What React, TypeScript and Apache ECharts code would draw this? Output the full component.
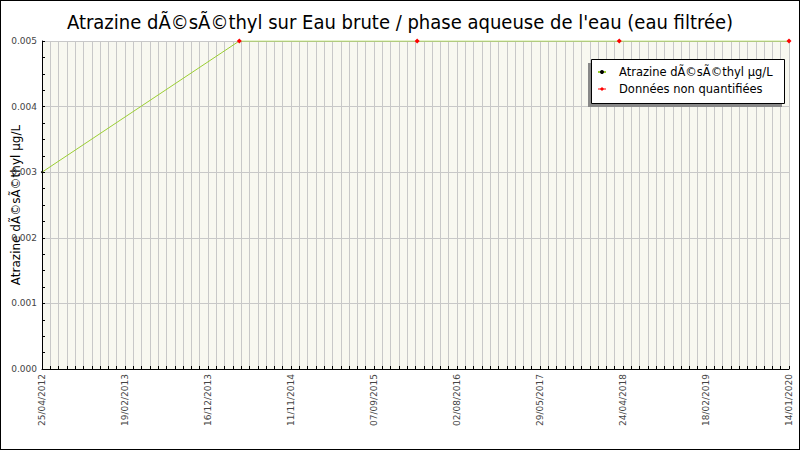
import React, { useEffect, useRef } from 'react';
import * as echarts from 'echarts';

const xTickLabels = [
  '25/04/2012', '19/02/2013', '16/12/2013', '11/11/2014', '07/09/2015',
  '02/08/2016', '29/05/2017', '24/04/2018', '18/02/2019', '14/01/2020',
];
// sample positions, in units of the label spacing
const samplePos = [0, 2.377, 4.52, 6.955, 9];
const sampleValues = [0.003, 0.005, 0.005, 0.005, 0.005];
const nonQuantified = [false, true, true, true, true];

const TITLE = "Atrazine dÃ©sÃ©thyl sur Eau brute / phase aqueuse de l'eau (eau filtrée)";
const SERIES_NAME = 'Atrazine dÃ©sÃ©thyl µg/L';
const NQ_NAME = 'Données non quantifiées';

const App: React.FC = () => {
  const chartRef = useRef<HTMLDivElement>(null);

  useEffect(() => {
    if (!chartRef.current) return;
    const chart = echarts.init(chartRef.current, null, { renderer: 'svg' });

    const lineData = samplePos.map((x, i) => [x, sampleValues[i]]);
    const nqData = samplePos
      .map((x, i) => [x, sampleValues[i]])
      .filter((_, i) => nonQuantified[i]);

    const font = 'DejaVu Sans';

    const option = {
      animation: false,
      backgroundColor: '#fff',
      title: {
        text: TITLE,
        left: 'center',
        top: 7,
        textStyle: { fontFamily: 'DejaVu Sans Condensed', fontSize: 20, fontWeight: 'normal', color: '#000' },
      },
      graphic: [
        // legend shadow + box
        { type: 'rect', z: 10, shape: { x: 588, y: 63, width: 194, height: 44 }, style: { fill: '#888' } },
        { type: 'rect', z: 11, shape: { x: 591.5, y: 59.5, width: 193, height: 44 }, style: { fill: '#fff', stroke: '#000', lineWidth: 1 } },
      ],
      legend: {
        orient: 'vertical',
        left: 591,
        top: 62,
        z: 20,
        padding: [4, 6, 4, 6],
        itemGap: 5,
        itemWidth: 8,
        itemHeight: 5,
        textStyle: { fontFamily: font, fontSize: 11.5, color: '#000', padding: [0, 0, 0, 8] },
        data: [
          { name: SERIES_NAME },
          { name: NQ_NAME, lineStyle: { opacity: 1, width: 1, color: '#ff0000' } },
        ],
      },
      grid: {
        left: 42, right: 11, top: 41, bottom: 81,
        outerBoundsMode: 'none',
        containLabel: false,
        show: true, backgroundColor: '#f8f8f0', borderWidth: 0,
      },
      xAxis: {
        type: 'value',
        min: 0,
        max: 9,
        interval: 1,
        axisLine: { show: true, lineStyle: { color: '#000', width: 1 } },
        axisTick: { show: true, inside: true, length: 3, lineStyle: { color: '#000' } },
        minorTick: { show: true, splitNumber: 10, length: 3, lineStyle: { color: '#000' } },
        splitLine: { show: true, lineStyle: { color: '#c8c8c8', width: 1 } },
        minorSplitLine: { show: true, lineStyle: { color: '#c8c8c8', width: 1 } },
        axisLabel: {
          rotate: 90,
          margin: 5,
          fontFamily: font,
          fontSize: 9,
          color: '#444',
          formatter: (v: number) => xTickLabels[Math.round(v)] ?? '',
        },
      },
      yAxis: {
        type: 'value',
        min: 0,
        max: 0.005,
        interval: 0.001,
        name: SERIES_NAME,
        nameLocation: 'middle',
        nameGap: 20,
        nameMoveOverlap: false,
        nameTextStyle: { fontFamily: font, fontSize: 12, color: '#000' },
        axisLine: { show: true, lineStyle: { color: '#000', width: 1 } },
        axisTick: { show: true, inside: true, length: 3, lineStyle: { color: '#000' } },
        minorTick: { show: true, splitNumber: 4, length: 3, lineStyle: { color: '#000' } },
        splitLine: { show: true, lineStyle: { color: '#c8c8c8', width: 1 } },
        axisLabel: {
          margin: 5,
          fontFamily: font,
          fontSize: 9,
          color: '#444',
          formatter: (v: number) => v.toFixed(3),
        },
      },
      series: [
        {
          name: SERIES_NAME,
          type: 'line',
          data: lineData,
          symbol: 'circle',
          symbolSize: 2,
          itemStyle: { color: '#000' },
          lineStyle: { color: '#9acd32', width: 1 },
          z: 3,
        },
        {
          name: NQ_NAME,
          type: 'line',
          data: nqData,
          symbol: 'diamond',
          symbolSize: 5,
          itemStyle: { color: '#ff0000' },
          lineStyle: { color: '#ff0000', width: 1, opacity: 0 },
          z: 4,
        },
      ],
    };

    chart.setOption(option);
    return () => chart.dispose();
  }, []);

  return (
    <div style={{ position: 'fixed', left: 0, top: 0, width: 800, height: 450 }}>
      <div ref={chartRef} style={{ width: 800, height: 450 }} />
      <div
        style={{
          position: 'absolute',
          left: 0,
          top: 0,
          width: 800,
          height: 450,
          boxSizing: 'border-box',
          border: '1px solid #000',
          pointerEvents: 'none',
        }}
      />
    </div>
  );
};

export default App;
